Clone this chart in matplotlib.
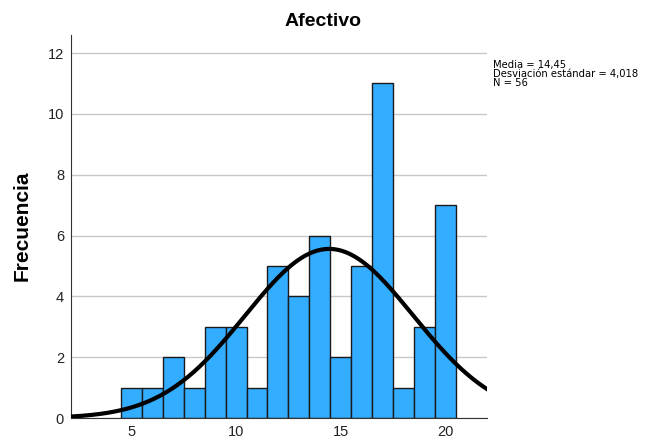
import numpy as np
import matplotlib.pyplot as plt

# histogram data (value -> count)
valores = [5, 6, 7, 8, 9, 10, 11, 12, 13, 14, 15, 16, 17, 18, 19, 20]
frecuencias = [1, 1, 2, 1, 3, 3, 1, 5, 4, 6, 2, 5, 11, 1, 3, 7]
media = 14.45
desv = 4.018
n = 56
xticks = [5, 10, 15, 20]
yticks = [0, 2, 4, 6, 8, 10, 12]

plt.rcParams['font.family'] = ['Liberation Sans', 'DejaVu Sans']

fig = plt.figure(figsize=(6.47, 4.43), dpi=100)
ax = fig.add_axes([0.1097, 0.0564, 0.643, 0.865])

ax.yaxis.grid(True, color='#c8c8c8', linewidth=1)
ax.set_axisbelow(True)
ax.bar(valores, frecuencias, width=1.0, color='#33adff', edgecolor='#1a1a1a',
       linewidth=1, zorder=2)

xs = np.linspace(2.1, 22, 300)
curva = n * 1.0 / (desv * np.sqrt(2 * np.pi)) * np.exp(-0.5 * ((xs - media) / desv) ** 2)
ax.plot(xs, curva, color='black', linewidth=3, zorder=3)

ax.set_xlim(2.1, 22)
ax.set_ylim(0, 12.6)
ax.set_xticks(xticks)
ax.set_yticks(yticks)
ax.tick_params(length=0, labelsize=10.5, colors='#222222', pad=5)
for s in ['top', 'right']:
    ax.spines[s].set_visible(False)
ax.spines['left'].set_color('#333333')
ax.spines['bottom'].set_color('#333333')

fig.text(0.5, 0.952, 'Afectivo', ha='center', va='center', fontsize=14, fontweight='bold')
fig.text(0.034, 0.49, 'Frecuencia', rotation=90, ha='center', va='center',
         fontsize=15, fontweight='bold')
fig.text(0.762, 0.865, 'Media = 14,45\nDesviación estándar = 4,018\nN = 56',
         ha='left', va='top', fontsize=7.2, linespacing=0.88, family='DejaVu Sans')

fig.savefig('out.png', dpi=100)
